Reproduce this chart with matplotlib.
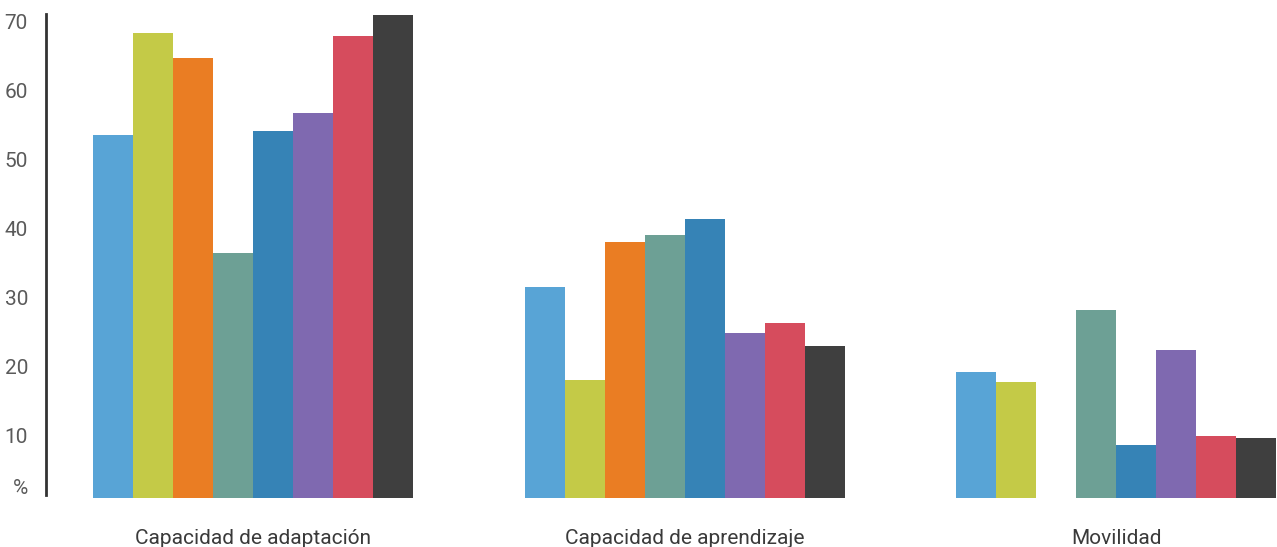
import numpy as np
import matplotlib.pyplot as plt
import matplotlib.transforms as mtransforms

categories = ['Capacidad de adaptación', 'Capacidad de aprendizaje', 'Movilidad']

# one list per series (8 series, same colour order in each group)
s1 = [52.6, 30.6, 18.3]
s2 = [67.4, 17.1, 16.8]
s3 = [63.8, 37.1, np.nan]   # no bar in Movilidad
s4 = [35.5, 38.1, 27.2]
s5 = [53.2, 40.4, 7.7]
s6 = [55.8, 23.9, 21.4]
s7 = [67.0, 25.4, 9.0]
s8 = [70.1, 22.0, 8.7]
series = [s1, s2, s3, s4, s5, s6, s7, s8]

colors = ['#58a4d6', '#c4ca47', '#ea7d23', '#6da095',
          '#3683b6', '#7f69b0', '#d64c5d', '#3f3f3f']

yticks = [10, 20, 30, 40, 50, 60, 70]
ytick_labels = ['10', '20', '30', '40', '50', '60', '70']
unit_label = '%'

plt.rcParams['font.family'] = ['Roboto', 'DejaVu Sans']

fig = plt.figure(figsize=(12.77, 5.47), dpi=100)
ax = fig.add_axes([46/1277, 49/547, 1231/1277, 484/547])

stride = 10.79
for i, (vals, c) in enumerate(zip(series, colors)):
    x = np.arange(len(categories))*stride + i
    ax.bar(x, vals, width=1.0, align='edge', color=c, linewidth=0)

ax.set_xlim(-1.175, 29.6)
ax.set_ylim(0, 70.2)

ax.set_xticks(np.arange(len(categories))*stride + 4)
ax.set_xticklabels(categories, fontsize=15, color='#3a3a3a')
ax.set_yticks(yticks)
ax.set_yticklabels(ytick_labels, fontsize=15, color='#5a5a5a')
ax.tick_params(axis='both', length=0)
ax.tick_params(axis='x', pad=22)
ax.tick_params(axis='y', pad=13)

# nudge y labels down a little, like the original
shift = mtransforms.ScaledTranslation(0, -6/100, fig.dpi_scale_trans)
for lab in ax.get_yticklabels():
    lab.set_transform(lab.get_transform() + shift)

ax.text(-0.0146, 0.0, unit_label, transform=ax.transAxes, ha='right', va='bottom',
        fontsize=15, color='#5a5a5a')

for sp in ['top', 'right', 'bottom']:
    ax.spines[sp].set_visible(False)
ax.spines['left'].set_color('#333333')
ax.spines['left'].set_linewidth(2)
ax.spines['left'].set_bounds(0.5, 70.2)

fig.savefig('out.png', dpi=100)
